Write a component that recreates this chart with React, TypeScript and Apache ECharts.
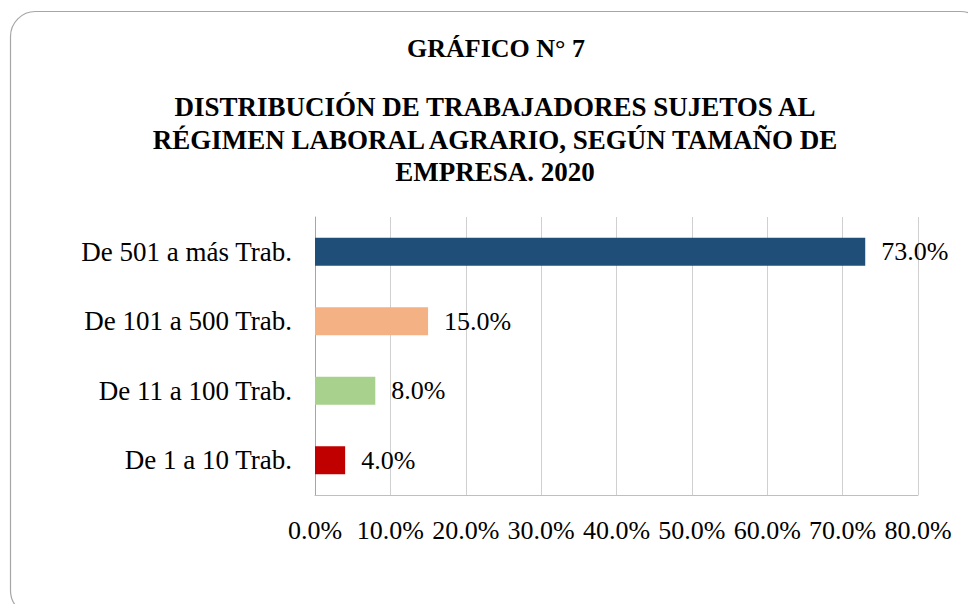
import React, { useEffect, useRef } from "react";
import * as echarts from "echarts";

const categories = ["De 1 a 10 Trab.", "De 11 a 100 Trab.", "De 101 a 500 Trab.", "De 501 a más Trab."];
const values = [4.0, 8.0, 15.0, 73.0];
const barColors = ["#C00000", "#A9D18E", "#F4B183", "#1F4E79"];
const titleLine = "GRÁFICO N° 7";
const subtitleLines = [
  "DISTRIBUCIÓN DE TRABAJADORES SUJETOS AL",
  "RÉGIMEN LABORAL AGRARIO, SEGÚN TAMAÑO DE",
  "EMPRESA. 2020",
];

const FONT = '"Liberation Serif", "Times New Roman", serif';

export default function App() {
  const ref = useRef<HTMLDivElement>(null);
  useEffect(() => {
    if (!ref.current) return;
    const chart = echarts.init(ref.current, undefined, { renderer: "svg" });
    chart.setOption({
      animation: false,
      backgroundColor: "#ffffff",
      graphic: [
        {
          type: "rect",
          shape: { x: 10.5, y: 11.5, width: 975, height: 604, r: 25 },
          style: { fill: "none", stroke: "#a6a6a6", lineWidth: 1.2 },
          z: 0,
        },
      ],
      title: [
        {
          text: titleLine,
          left: 496,
          top: 35,
          padding: 0,
          textAlign: "center",
          textStyle: { fontFamily: FONT, fontSize: 26, fontWeight: "bold", color: "#000", lineHeight: 26 },
        },
        {
          text: subtitleLines.join("\n"),
          left: 495,
          top: 91,
          padding: 0,
          textAlign: "center",
          textStyle: { fontFamily: FONT, fontSize: 27, fontWeight: "bold", color: "#000", lineHeight: 32.5 },
        },
      ],
      grid: { left: 315, right: 50, top: 217, bottom: 109, containLabel: false },
      xAxis: {
        type: "value",
        min: 0,
        max: 80,
        interval: 10,
        axisLine: { show: true, lineStyle: { color: "#bfbfbf", width: 1 } },
        axisTick: { show: false },
        splitLine: { show: true, lineStyle: { color: "#d0d0d0", width: 1 } },
        axisLabel: {
          fontFamily: FONT,
          fontSize: 26,
          lineHeight: 26,
          color: "#000",
          margin: 22,
          formatter: (v: number) => v.toFixed(1) + "%",
        },
      },
      yAxis: {
        type: "category",
        data: categories,
        axisLine: { show: true, lineStyle: { color: "#a6a6a6", width: 1 } },
        axisTick: { show: false },
        splitLine: { show: false },
        axisLabel: { fontFamily: FONT, fontSize: 27, color: "#000", margin: 23 },
      },
      series: [
        {
          type: "bar",
          barWidth: 28,
          data: values.map((v, i) => ({ value: v, itemStyle: { color: barColors[i] } })),
          label: {
            show: true,
            position: "right",
            distance: 16,
            fontFamily: FONT,
            fontSize: 26,
            color: "#000",
            formatter: (p: any) => Number(p.value).toFixed(1) + "%",
          },
        },
      ],
    });
    return () => chart.dispose();
  }, []);
  return (
    <div
      ref={ref}
      style={{ position: "fixed", left: 0, top: 0, width: 968, height: 604 }}
    />
  );
}
